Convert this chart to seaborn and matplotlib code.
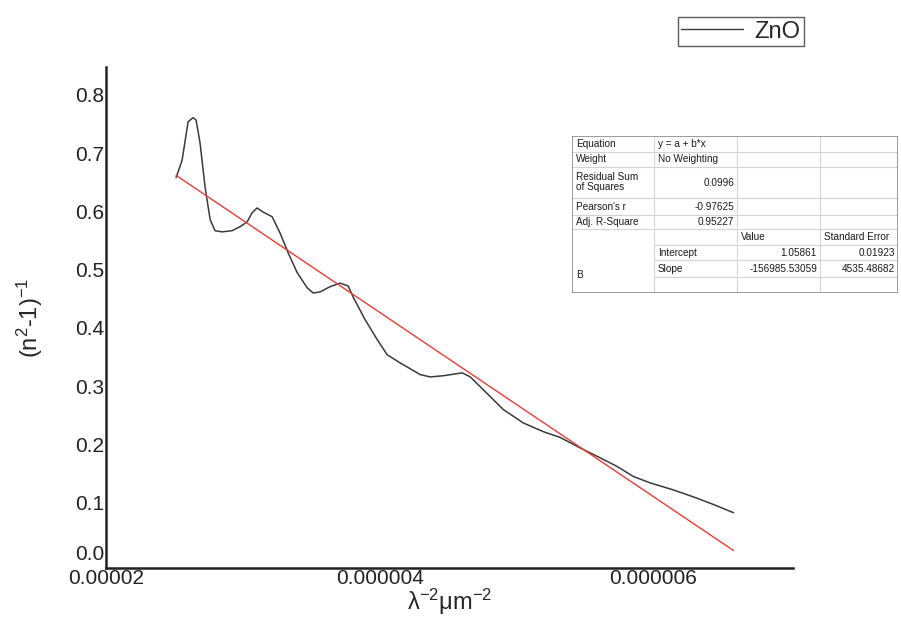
import matplotlib
matplotlib.use("Agg")
import matplotlib.pyplot as plt
import matplotlib.transforms as mtransforms
import seaborn as sns
import pandas as pd
from matplotlib.lines import Line2D

# ---- data ----
x_curve = [2.512, 2.556, 2.600, 2.636, 2.658, 2.687, 2.724, 2.761, 2.797, 2.848,
           2.921, 2.980, 3.031, 3.068, 3.104, 3.148, 3.214, 3.272, 3.331, 3.397,
           3.470, 3.514, 3.565, 3.638, 3.711, 3.770, 3.806, 3.894, 3.982, 4.055,
           4.150, 4.296, 4.369, 4.464, 4.603, 4.662, 4.757, 4.903, 5.049, 5.196,
           5.320, 5.466, 5.612, 5.737, 5.854, 5.978, 6.146, 6.293, 6.439, 6.585]
y_curve = [0.658, 0.688, 0.754, 0.761, 0.757, 0.718, 0.642, 0.586, 0.567, 0.565,
           0.567, 0.574, 0.582, 0.598, 0.606, 0.599, 0.591, 0.563, 0.529, 0.495,
           0.469, 0.460, 0.462, 0.471, 0.477, 0.472, 0.453, 0.414, 0.380, 0.354,
           0.340, 0.320, 0.316, 0.318, 0.323, 0.316, 0.294, 0.260, 0.237, 0.222,
           0.212, 0.194, 0.177, 0.162, 0.145, 0.134, 0.122, 0.110, 0.097, 0.083]
x_curve = [v * 1e-6 for v in x_curve]

fit_x = [2.512e-6, 6.585e-6]
fit_y = [0.662, 0.018]

x_ticks = [2e-6, 4e-6, 6e-6]
x_tick_labels = ["0.00002", "0.000004", "0.000006"]
y_ticks = [0.0, 0.1, 0.2, 0.3, 0.4, 0.5, 0.6, 0.7, 0.8]
y_tick_labels = ["0.0", "0.1", "0.2", "0.3", "0.4", "0.5", "0.6", "0.7", "0.8"]

table_rows = [
    ["Equation", "y = a + b*x", "", ""],
    ["Weight", "No Weighting", "", ""],
    ["Residual Sum\nof Squares", "0.0996", "", ""],
    ["Pearson's r", "-0.97625", "", ""],
    ["Adj. R-Square", "0.95227", "", ""],
    ["", "", "Value", "Standard Error"],
    ["", "Intercept", "1.05861", "0.01923"],
    ["B", "Slope", "-156985.53059", "4535.48682"],
    ["", "", "", ""],
]

# ---- style ----
sns.set_style("white")
plt.rcParams["font.family"] = ["Liberation Sans", "DejaVu Sans"]
plt.rcParams["mathtext.default"] = "regular"

W, H = 901, 635
fig = plt.figure(figsize=(W / 100, H / 100), dpi=100)
ax = fig.add_axes([106 / W, 1 - 568 / H, (793 - 106) / W, (568 - 67) / H])

df_curve = pd.DataFrame({"x": x_curve, "y": y_curve})
df_fit = pd.DataFrame({"x": fit_x, "y": fit_y})
sns.lineplot(data=df_curve, x="x", y="y", ax=ax, color="#3a3a3a", lw=1.1,
             sort=False, estimator=None)
sns.lineplot(data=df_fit, x="x", y="y", ax=ax, color="#ee3b35", lw=1.0,
             sort=False, estimator=None)

ax.set_xlim(2e-6, 7.02e-6)
ax.set_ylim(-0.012, 0.848)
ax.set_xticks(x_ticks)
ax.set_xticklabels(x_tick_labels)
ax.set_yticks(y_ticks)
ax.set_yticklabels(y_tick_labels)
ax.tick_params(axis="both", length=0, labelsize=15, colors="#222222")
ax.tick_params(axis="y", pad=1)
ax.tick_params(axis="x", pad=1)
for s in ["top", "right"]:
    ax.spines[s].set_visible(False)
for s in ["left", "bottom"]:
    ax.spines[s].set_color("#222222")
    ax.spines[s].set_linewidth(1.8)

# lift the "0.0" label above the x axis as in the reference
lbl0 = ax.get_yticklabels()[0]
lbl0.set_transform(lbl0.get_transform() +
                   mtransforms.ScaledTranslation(0, 9 / 100, fig.dpi_scale_trans))

ax.set_xlabel("λ$^{-2}$μm$^{-2}$", fontsize=17, labelpad=-1)
ax.set_ylabel("(n$^{2}$-1)$^{-1}$", fontsize=17, labelpad=22)

# legend
handle = Line2D([], [], color="#3a3a3a", lw=1.0)
leg = fig.legend([handle], ["ZnO"], loc="upper right",
                 bbox_to_anchor=(804 / W, 1 - 17 / H), fontsize=17,
                 frameon=True, fancybox=False, handlelength=2.6,
                 borderpad=0.15, handletextpad=0.5, borderaxespad=0)
leg.get_frame().set_edgecolor("#333333")
leg.get_frame().set_linewidth(1.0)

# table drawn in a pixel-coordinate overlay
tx0, tx1, ty0, ty1 = 572, 898, 136, 293
tax = fig.add_axes([tx0 / W, 1 - ty1 / H, (tx1 - tx0) / W, (ty1 - ty0) / H])
tax.set_xlim(tx0, tx1)
tax.set_ylim(ty1, ty0)
tax.axis("off")
col_edges = [572, 654, 737, 820, 898]
row_edges = [136, 152, 167, 198, 215, 229, 245, 260, 277, 293]
grid_c = "#d4d4d4"
for xe in col_edges[1:-1]:
    tax.plot([xe, xe], [ty0, ty1], color=grid_c, lw=0.8)
for i, ye in enumerate(row_edges[1:-1], start=1):
    x_start = col_edges[0] if i <= 5 else col_edges[1]
    tax.plot([x_start, tx1], [ye, ye], color=grid_c, lw=0.8)
tax.plot([tx0, tx1, tx1, tx0, tx0], [ty0, ty0, ty1, ty1, ty0], color="#8a8a8a", lw=1.2)

fs = 7.2
tc = "#1a1a1a"
for r, row in enumerate(table_rows):
    yc = (row_edges[r] + row_edges[r + 1]) / 2
    for c, txt in enumerate(row):
        if not txt:
            continue
        numeric = txt[0].isdigit() or txt[0] == "-"
        if numeric:
            tax.text(col_edges[c + 1] - 3, yc, txt, ha="right", va="center",
                     fontsize=fs, color=tc)
        else:
            tax.text(col_edges[c] + 4, yc + (7 if txt == "B" else 0), txt,
                     ha="left", va="center", fontsize=fs, color=tc, linespacing=1.0)

fig.savefig("out.png", dpi=100, facecolor="white")
